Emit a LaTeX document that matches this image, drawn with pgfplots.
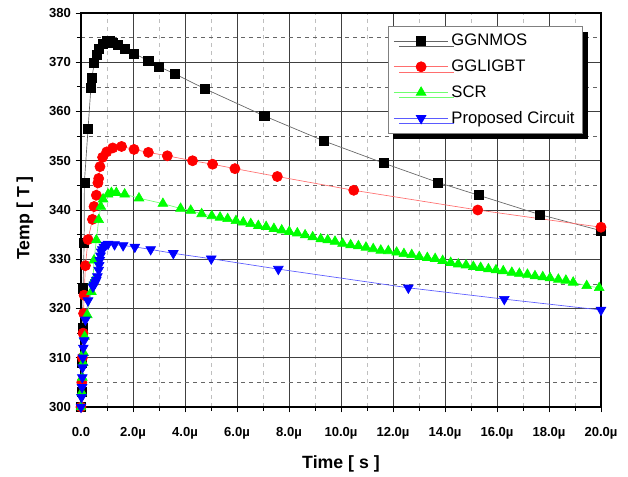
\documentclass[border=0pt]{standalone}
\usepackage{fontspec}
\setmainfont{Liberation Sans}
\usepackage{pgfplots}
\pgfplotsset{compat=1.18}
\usetikzlibrary{shadows}

\definecolor{lnblack}{RGB}{100,100,100}
\definecolor{lnred}{RGB}{255,110,110}
\definecolor{lngreen}{RGB}{110,255,110}
\definecolor{lnblue}{RGB}{90,90,255}

\begin{document}
\begin{tikzpicture}
\begin{axis}[
    at={(0,0)}, anchor=south west,
    scale only axis,
    width=390pt, height=295.5pt,
    xmin=0, xmax=20, ymin=300, ymax=380,
    xtick={0,2,...,20},
    xticklabels={0.0,2.0µ,4.0µ,6.0µ,8.0µ,10.0µ,12.0µ,14.0µ,16.0µ,18.0µ,20.0µ},
    ytick={300,310,...,380},
    yticklabels={300,310,320,330,340,350,360,370,380},
    minor tick num=1,
    tick align=outside,
    xtick pos=bottom, ytick pos=left,
    major tick length=4pt, minor tick length=3pt,
    tick style={black, line width=0.6pt},
    ticklabel style={font=\fontsize{9.8}{11}\selectfont\bfseries},
    xticklabel style={yshift=-8pt},
    xlabel={Time [ s ]}, ylabel={Temp [ T ]},
    label style={font=\fontsize{13.3}{15}\selectfont\bfseries},
    xlabel style={at={(axis description cs:0.5,-0.145)}, anchor=center},
    ylabel style={at={(axis description cs:-0.108,0.48)}, anchor=center},
    grid=both,
    major grid style={black!75, line width=0.5pt},
    minor x grid style={black!25, dashed, line width=0.4pt},
    minor y grid style={black!60, dashed, line width=0.4pt},
    axis line style={black, line width=0.8pt},
    legend cell align=left,
    legend style={at={(axis description cs:0.59,0.967)}, anchor=north west,
        draw=black!50, fill=white, line width=0.5pt,
        font=\fontsize{12.5}{14}\selectfont,
        row sep=5pt, inner sep=4pt,
        drop shadow={shadow xshift=4pt, shadow yshift=-4pt, fill=black, opacity=1}},
    legend image code/.code={
        \draw[mark repeat=2, mark phase=2] plot coordinates {(0cm,0cm) (0.72cm,0cm) (1.44cm,0cm)};},
]
\addplot[lnblack, line width=0.5pt, mark=square*, mark size=3.4pt,
    mark options={solid, fill=black, draw=black}] coordinates {
(0,300) (0.02,303) (0.04,309) (0.06,316) (0.08,324.1) (0.12,333.4) (0.13,345.6)
(0.27,356.4) (0.38,364.8) (0.42,366.9) (0.51,369.8) (0.60,371.5) (0.70,372.8)
(0.83,373.8) (0.99,374.4) (1.12,374.4) (1.24,374.0) (1.40,373.5) (1.69,372.8)
(2.04,371.8) (2.59,370.3) (3.01,369.1) (3.62,367.6) (4.77,364.6) (7.05,359.1)
(9.35,354.0) (11.65,349.5) (13.73,345.6) (15.29,343.0) (17.63,339.1) (20.00,335.8)
};
\addlegendentry{GGNMOS}
\addplot[lnred, line width=0.5pt, mark=*, mark size=3.8pt,
    mark options={solid, fill=red, draw=red}] coordinates {
(0,300) (0.03,305) (0.05,310) (0.08,315) (0.10,319) (0.12,322.7) (0.17,328.7)
(0.27,334.0) (0.44,338.1) (0.50,340.7) (0.59,343.0) (0.65,345.5) (0.68,346.4)
(0.73,348.8) (0.83,350.7) (0.99,351.8) (1.22,352.6) (1.56,352.9) (2.04,352.3)
(2.59,351.7) (3.32,351.0) (4.29,350.0) (5.06,349.3) (5.92,348.4) (7.55,346.8)
(10.49,344.0) (15.26,340.0) (20.00,336.5)
};
\addlegendentry{GGLIGBT}
\addplot[lngreen, line width=0.5pt, mark=triangle*, mark size=4.2pt,
    mark options={solid, fill=green, draw=green}] coordinates {
(0,300) (0.03,303) (0.05,306) (0.08,309) (0.10,311) (0.14,314.3) (0.24,318.7)
(0.40,323.4) (0.46,325.4) (0.50,329.8) (0.59,333.9) (0.68,338.0) (0.76,340.7)
(0.85,342.2) (1.04,343.2) (1.17,343.5) (1.36,343.5) (1.68,343.2) (2.23,342.4)
(3.15,341.3) (3.83,340.3) (4.22,339.9) (4.64,339.2) (5.03,338.8) (5.35,338.5)
(5.64,338.2) (5.96,337.8) (6.24,337.5) (6.53,337.2) (6.82,336.8) (7.12,336.6)
(7.42,336.2) (7.72,335.9) (8.01,335.6) (8.32,335.3) (8.62,334.9) (8.91,334.5)
(9.22,334.1) (9.49,333.9) (9.77,333.6) (10.06,333.2) (10.37,332.9) (10.67,332.7)
(10.96,332.4) (11.24,332.1) (11.53,331.8) (11.82,331.7) (12.14,331.4) (12.42,331.1)
(12.72,330.9) (13.01,330.5) (13.32,330.3) (13.62,330.1) (13.91,329.7) (14.22,329.3)
(14.51,329.0) (14.81,328.8) (15.09,328.5) (15.37,328.3) (15.67,328.0) (15.96,327.8)
(16.24,327.6) (16.57,327.3) (16.86,327.1) (17.17,326.9) (17.46,326.6) (17.76,326.4)
(18.04,326.2) (18.36,325.9) (18.65,325.7) (18.93,325.3) (19.45,324.6) (19.93,324.2)
};
\addlegendentry{SCR}
\addplot[lnblue, line width=0.5pt, mark=triangle*, mark size=4.2pt,
    mark options={solid, fill=blue, draw=blue, rotate=180}] coordinates {
(0,300) (0.02,302) (0.04,304) (0.05,306) (0.06,308) (0.07,310) (0.09,312)
(0.12,313.5) (0.17,317.7) (0.27,321.6) (0.46,324.4) (0.50,324.8) (0.55,325.3)
(0.59,325.8) (0.63,326.5) (0.68,327.8) (0.70,328.8) (0.72,329.8) (0.75,330.7)
(0.78,331.5) (0.82,332.0) (0.88,332.5) (0.95,332.9) (1.04,333.1) (1.29,333.0)
(1.62,332.8) (2.07,332.5) (2.68,332.0) (3.55,331.2) (5.01,330.1) (7.59,328.0)
(12.59,324.2) (16.28,321.9) (20.00,319.7)
};
\addlegendentry{Proposed Circuit}
\end{axis}
\pgfresetboundingbox
\path (-60.75pt,-52.5pt) rectangle (410.25pt,305.25pt);
\end{tikzpicture}
\end{document}
